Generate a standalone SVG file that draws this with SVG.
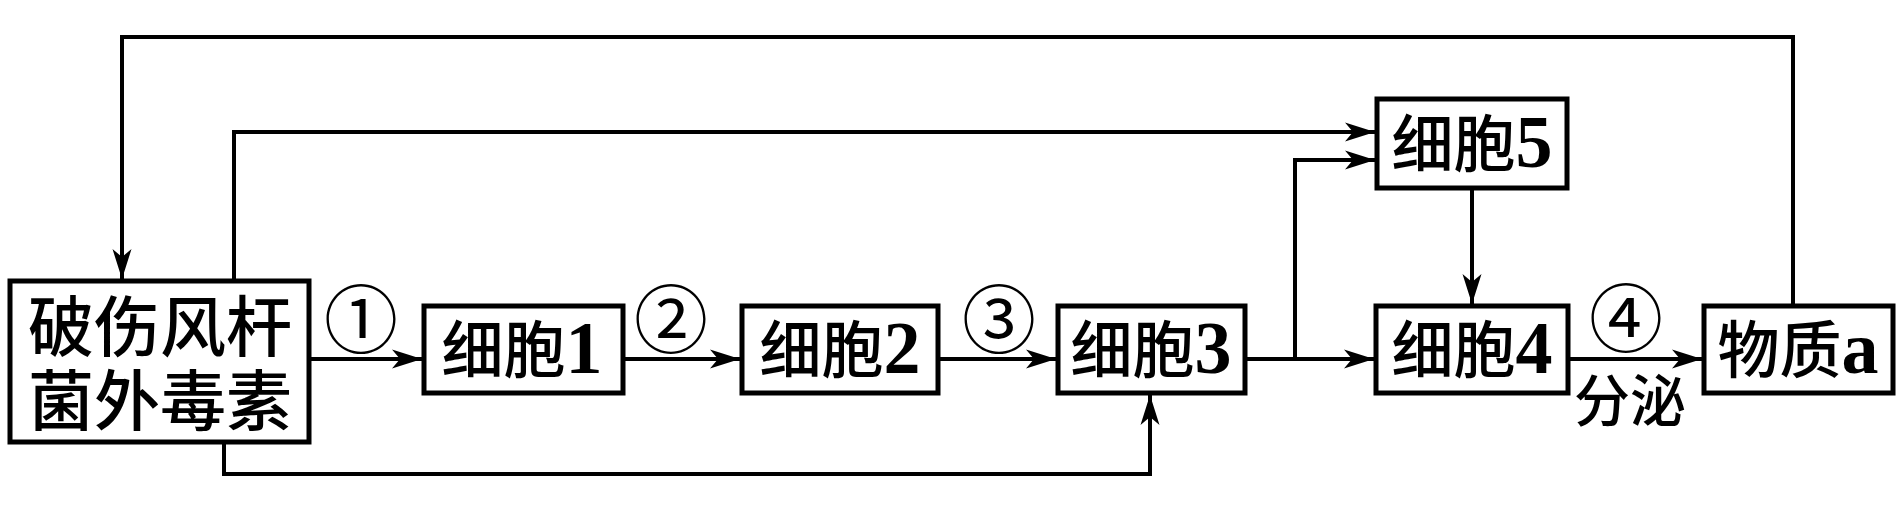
<svg xmlns="http://www.w3.org/2000/svg" width="1898" height="510" viewBox="0 0 1898 510">
<style>
.box{fill:#fff;stroke:#000;stroke-width:5}
.ln{fill:none;stroke:#000;stroke-width:4;stroke-linejoin:miter}
.t{font-family:'Liberation Serif','Noto Sans CJK SC',serif;fill:#000;text-anchor:middle;font-weight:500}
.lbl{font-size:62px}
.d{font-size:74px;font-weight:bold}
.num{font-size:74px;font-weight:normal}
</style>
<defs>
<marker id="ar" markerUnits="userSpaceOnUse" markerWidth="34" markerHeight="22" viewBox="0 -11 34 22" refX="30" refY="0" orient="auto">
<path d="M0,-9.5 L30,0 L0,9.5 L8,0 Z" fill="#000"/>
</marker>
</defs>
<rect width="1898" height="510" fill="#fff"/>
<g id="connectors">
<path class="ln" d="M309,359 H422" marker-end="url(#ar)"/>
<path class="ln" d="M623,359 H740" marker-end="url(#ar)"/>
<path class="ln" d="M938,359 H1056" marker-end="url(#ar)"/>
<path class="ln" d="M1245,359 H1374" marker-end="url(#ar)"/>
<path class="ln" d="M1295,359 V160 H1375" marker-end="url(#ar)"/>
<path class="ln" d="M234,281 V132 H1375" marker-end="url(#ar)"/>
<path class="ln" d="M224,442 V474 H1150 V395" marker-end="url(#ar)"/>
<path class="ln" d="M1472,188 V304" marker-end="url(#ar)"/>
<path class="ln" d="M1568,359 H1702" marker-end="url(#ar)"/>
<path class="ln" d="M1793,306 V37 H122 V279" marker-end="url(#ar)"/>
</g>
<g id="toxin">
<rect class="box" x="10" y="281" width="299" height="161"/>
<text class="t" x="160" y="351" font-size="66">破伤风杆</text>
<text class="t" x="160" y="425" font-size="66">菌外毒素</text>
</g>
<g id="cell1">
<rect class="box" x="424" y="306" width="199" height="87"/>
<text class="t lbl" x="522" y="373">细胞<tspan class="d">1</tspan></text>
</g>
<g id="cell2">
<rect class="box" x="742" y="306" width="196" height="87"/>
<text class="t lbl" x="840" y="373">细胞<tspan class="d">2</tspan></text>
</g>
<g id="cell3">
<rect class="box" x="1058" y="306" width="187" height="87"/>
<text class="t lbl" x="1151" y="373">细胞<tspan class="d">3</tspan></text>
</g>
<g id="cell5">
<rect class="box" x="1377" y="99" width="190" height="89"/>
<text class="t lbl" x="1472" y="167">细胞<tspan class="d">5</tspan></text>
</g>
<g id="cell4">
<rect class="box" x="1376" y="306" width="192" height="87"/>
<text class="t lbl" x="1472" y="373">细胞<tspan class="d">4</tspan></text>
</g>
<g id="substance">
<rect class="box" x="1704" y="306" width="189" height="87"/>
<text class="t lbl" x="1798" y="373">物质<tspan class="d">a</tspan></text>
</g>
<g id="labels">
<text class="t num" x="361" y="347">①</text>
<text class="t num" x="671" y="347">②</text>
<text class="t num" x="999" y="347">③</text>
<text class="t num" x="1626" y="346">④</text>
<text class="t" x="1630" y="421" font-size="56">分泌</text>
</g>
</svg>
